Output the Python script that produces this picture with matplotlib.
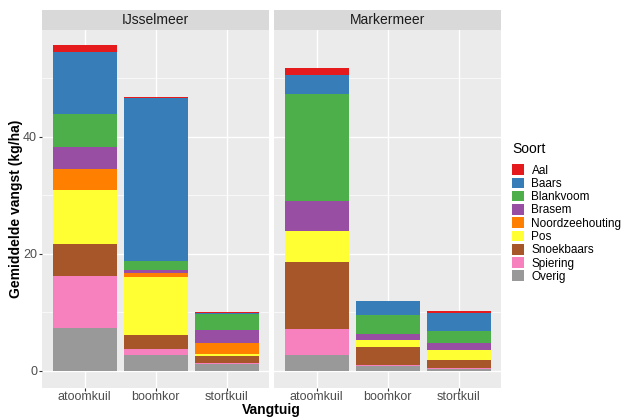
import matplotlib
matplotlib.use("Agg")
import matplotlib.pyplot as plt
from matplotlib.patches import Patch
import numpy as np

plt.rcParams['font.family'] = ['Liberation Sans', 'DejaVu Sans']

lakes = ["IJsselmeer", "Markermeer"]
gears = ["atoomkuil", "boomkor", "stortkuil"]
species = ["Aal", "Baars", "Blankvoom", "Brasem", "Noordzeehouting",
           "Pos", "Snoekbaars", "Spiering", "Overig"]
colors = ["#E41A1C", "#377EB8", "#4DAF4A", "#984EA3", "#FF7F00",
          "#FFFF33", "#A65628", "#F781BF", "#999999"]

# values per species for [atoomkuil, boomkor, stortkuil]
ijssel = {
    "Aal":             [1.1, 0.15, 0.1],
    "Baars":           [10.6, 27.8, 0.2],
    "Blankvoom":       [5.7, 1.6, 2.7],
    "Brasem":          [3.8, 0.5, 2.3],
    "Noordzeehouting": [3.5, 0.7, 1.8],
    "Pos":             [9.3, 9.9, 0.4],
    "Snoekbaars":      [5.4, 2.4, 1.2],
    "Spiering":        [8.9, 1.0, 0.1],
    "Overig":          [7.3, 2.7, 1.2],
}
marker = {
    "Aal":             [1.2, 0.0, 0.35],
    "Baars":           [3.2, 2.3, 3.05],
    "Blankvoom":       [18.3, 3.2, 2.0],
    "Brasem":          [5.2, 1.1, 1.2],
    "Noordzeehouting": [0.0, 0.05, 0.05],
    "Pos":             [5.3, 1.1, 1.7],
    "Snoekbaars":      [11.3, 3.2, 1.3],
    "Spiering":        [4.5, 0.15, 0.15],
    "Overig":          [2.7, 0.75, 0.35],
}
data = [ijssel, marker]

W, H = 621, 419
fig = plt.figure(figsize=(W / 100, H / 100), dpi=100)

panel_bg = "#EBEBEB"
strip_bg = "#D9D9D9"
txt_grey = "#4D4D4D"

panels = [(42, 269.3), (274, 501.3)]
ptop, pbot = 30, 388
strip_top = 10

ymin, ymax = -2.96, 58.2
stack_order = species[::-1]  # Overig at bottom

axes = []
for i, (x0, x1) in enumerate(panels):
    ax = fig.add_axes([x0 / W, 1 - pbot / H, (x1 - x0) / W, (pbot - ptop) / H])
    ax.set_facecolor(panel_bg)
    ax.set_xlim(0.4, 3.6)
    ax.set_ylim(ymin, ymax)
    for y in [10, 30, 50]:
        ax.axhline(y, color="white", lw=0.5, zorder=0)
    for y in [0, 20, 40]:
        ax.axhline(y, color="white", lw=1.0, zorder=0)
    for xx in [1, 2, 3]:
        ax.axvline(xx, color="white", lw=1.0, zorder=0)
    xs = np.arange(1, 4)
    bottom = np.zeros(3)
    d = data[i]
    for sp in stack_order:
        vals = np.array(d[sp])
        ax.bar(xs, vals, width=0.9, bottom=bottom,
               color=colors[species.index(sp)], zorder=2, linewidth=0)
        bottom += vals
    for s in ax.spines.values():
        s.set_visible(False)
    ax.set_xticks(xs)
    ax.set_xticklabels(gears, fontsize=9, color=txt_grey)
    ax.tick_params(axis="x", length=2, color="#333333", pad=0.5)
    ax.set_yticks([0, 20, 40])
    if i == 0:
        ax.set_yticklabels(["0", "20", "40"], fontsize=9, color=txt_grey)
        ax.tick_params(axis="y", length=2, color="#333333", pad=1.5)
    else:
        ax.tick_params(axis="y", length=0, labelleft=False)
    # strip
    sax = fig.add_axes([x0 / W, 1 - ptop / H, (x1 - x0) / W, (ptop - strip_top) / H])
    sax.set_facecolor(strip_bg)
    sax.set_xticks([])
    sax.set_yticks([])
    for s in sax.spines.values():
        s.set_visible(False)
    sax.text(0.5, 0.5, lakes[i], ha="center", va="center", fontsize=10,
             color="#1A1A1A", transform=sax.transAxes)
    axes.append(ax)

fig.text(16 / W, 1 - 209 / H, "Gemiddelde vangst (kg/ha)", rotation=90,
         ha="center", va="center", fontsize=10, fontweight="bold")
fig.text(271.5 / W, 1 - 410 / H, "Vangtuig", ha="center", va="center",
         fontsize=10, fontweight="bold")

handles = [Patch(facecolor=c, edgecolor="none") for c in colors]
leg = fig.legend(handles, species, title="Soort", loc="upper left",
                 bbox_to_anchor=(512 / W, 1 - 142 / H), frameon=False,
                 fontsize=8.5, title_fontsize=10, handlelength=1.05,
                 handleheight=1.0, handletextpad=0.6, labelspacing=0.08,
                 borderaxespad=0, borderpad=0)
leg._legend_box.align = "left"
leg._legend_box.sep = 6

fig.savefig("out.png", dpi=100)
